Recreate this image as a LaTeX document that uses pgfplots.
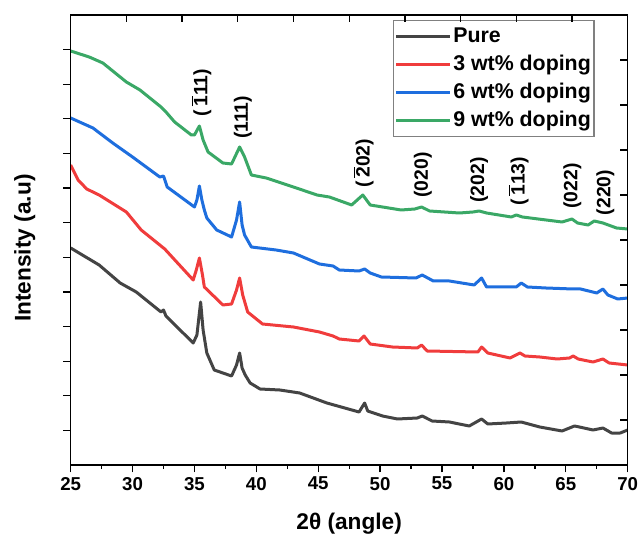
\documentclass[border=0pt]{standalone}
\usepackage{fontspec}
\setmainfont{Liberation Sans}
\usepackage{pgfplots}
\pgfplotsset{compat=1.18}

\definecolor{cpure}{RGB}{68,68,68}
\definecolor{cthree}{RGB}{240,60,60}
\definecolor{csix}{RGB}{30,110,222}
\definecolor{cnine}{RGB}{58,168,102}

\newcommand{\ob}[1]{$\overline{\mbox{#1}}$}
\newcommand{\peak}[3]{\node[rotate=90, anchor=center, inner sep=0pt, font=\fontsize{14.5}{16}\selectfont\bfseries] at (axis cs:#1,#2) {#3};}

\begin{document}
\begin{tikzpicture}
% page = 639 x 538 px at 0.75pt per px; axis box sits at the origin
\useasboundingbox (-53pt,-55.3pt) rectangle (426.25pt,348.75pt);
\begin{axis}[
    at={(0,0)}, anchor=south west,
    scale only axis, width=417.75pt, height=337.5pt,
    xmin=25, xmax=70, ymin=0, ymax=450,
    xtick={25,30,...,70}, minor x tick num=1,
    ytick={34.6,69.2,103.8,138.5,173.1,207.7,242.3,276.9,311.5,346.2,380.8,415.4},
    yticklabels={},
    xtick pos=left, ytick pos=left, tick align=outside,
    major tick length=5.5pt, minor tick length=3pt,
    every tick/.style={black, line width=1pt},
    axis line style={line width=1.2pt},
    /pgf/number format/assume math mode=true,
    tick label style={font=\fontsize{14}{16}\selectfont\bfseries},
    xlabel={2θ (angle)}, ylabel={Intensity (a.u)},
    label style={font=\fontsize{17}{19}\selectfont\bfseries},
    xlabel style={at={(axis description cs:0.5,-0.131)}, anchor=center},
    ylabel style={at={(axis description cs:-0.0826,0.482)}, anchor=center},
    legend style={at={(rel axis cs:0.941,0.989)}, anchor=north east,
        draw=gray, line width=1pt, font=\fontsize{16}{18}\selectfont\bfseries,
        inner xsep=1pt, inner ysep=4pt, row sep=5pt,
        nodes={inner sep=1.5pt}},
    legend cell align=left,
    legend image code/.code={\draw[#1] (0pt,0pt) -- (40pt,0pt);},
    every axis plot/.append style={line width=2.25pt, line join=round},
]
\addplot[cpure] coordinates {
(25,217)(27.3,200)(29.0,182)(30.3,173)(32.3,153)(32.5,155)(32.7,149)(34.9,122)
(35.2,130)(35.5,163)(35.7,135)(36.0,112)(36.6,95)(38.0,89)(38.4,100)(38.65,112)
(38.85,97)(39.1,90)(39.5,82)(40.3,76)(41.9,75)(43.5,72)(45.7,62)(48.3,53)
(48.75,62)(49.0,54)(50.2,49)(51.4,46)(53.0,47)(53.4,49)(54.2,44)(55.6,43)
(57.2,39)(58.2,46)(58.7,41)(60.2,42)(61.4,43)(62.9,38)(64.7,34)(65.7,39)
(66.1,38)(67.2,35)(68.0,37)(68.7,32)(69.4,32)(70,35)};
\addplot[cthree] coordinates {
(25,300)(25.6,285)(26.3,276)(27.3,270)(29.5,253)(30.7,235)(32.4,218)(32.6,216)
(34.9,185)(35.15,195)(35.4,207)(35.65,190)(35.8,178)(37.3,160)(38.0,161)(38.4,175)
(38.65,187)(38.9,170)(39.3,153)(40.5,141)(43.0,138)(45.1,133)(46.2,129)(46.7,126)
(48.3,124)(48.7,129)(49.2,121)(51.0,118)(53.0,117)(53.35,120)(53.8,114)(57.9,113)
(58.2,118)(58.7,112)(60.5,107)(61.3,112)(61.7,109)(62.9,108)(64.3,106)(65.3,107)
(65.6,109)(66.0,106)(67.2,103)(68.0,106)(68.5,102)(70,100)};
\addplot[csix] coordinates {
(25,347)(26.8,337)(28.4,322)(30.0,308)(32.2,288)(32.5,289)(32.8,278)(35.0,258)
(35.2,265)(35.4,279)(35.6,265)(35.8,255)(36.0,247)(36.8,235)(38.0,228)(38.4,245)
(38.65,263)(38.85,240)(39.05,230)(39.6,218)(41.6,215)(43.0,212)(45.1,201)(46.2,199)
(46.7,195)(48.3,194)(48.75,196)(49.2,192)(50.1,188)(52.9,187)(53.4,190)(54.3,184)
(55.6,184)(57.6,180)(58.2,187)(58.6,178)(61.0,178)(61.4,182)(61.9,178)(63.4,177)
(65.6,176)(66.2,176)(67.5,172)(68.0,176)(68.4,170)(69.2,166)(70,167)};
\addplot[cnine] coordinates {
(25,414)(26.5,408)(27.6,402)(29.5,383)(30.6,375)(32.3,358)(32.7,353)(33.4,343)
(34.75,330)(35.0,330)(35.4,339)(35.7,325)(36.1,313)(37.3,302)(38.0,301)(38.65,318)
(39.05,308)(39.6,290)(40.8,287)(43.0,278)(44.9,270)(45.9,268)(47.7,260)(48.6,270)
(49.2,260)(50.2,258)(51.7,255)(52.8,256)(53.35,258)(54.0,254)(56.4,252)(57.5,253)
(58.0,254)(58.6,252)(60.6,248)(61.0,250)(61.5,248)(64.7,243)(65.5,246)(65.95,242)
(66.8,240)(67.3,244)(68.0,242)(69.1,237)(70,236)};
\legend{Pure, 3 wt\% doping, 6 wt\% doping, 9 wt\% doping}
\peak{35.56}{372.5}{(\,\ob{1}11)}
\peak{38.92}{347.5}{(111)}
\peak{48.67}{302}{(\,\ob{2}02)}
\peak{53.46}{290}{(020)}
\peak{57.99}{285}{(202)}
\peak{61.19}{284}{(\,\ob{1}13)}
\peak{65.53}{279}{(022)}
\peak{68.2}{272.5}{(220)}
\end{axis}
\begin{axis}[
    at={(0,0)}, anchor=south west,
    scale only axis, width=417.75pt, height=337.5pt,
    xmin=25, xmax=70, ymin=0, ymax=450,
    xtick={29.5,34,38.5,43,47.5,52,56.5,61,65.5},
    ytick={45,90,135,180,225,270,315,360,405},
    xticklabels={}, yticklabels={},
    xtick pos=right, ytick pos=right, tick align=inside,
    major tick length=5.5pt,
    every tick/.style={black, line width=1pt},
    axis line style={line width=1.2pt},
]
\end{axis}
\end{tikzpicture}
\end{document}
